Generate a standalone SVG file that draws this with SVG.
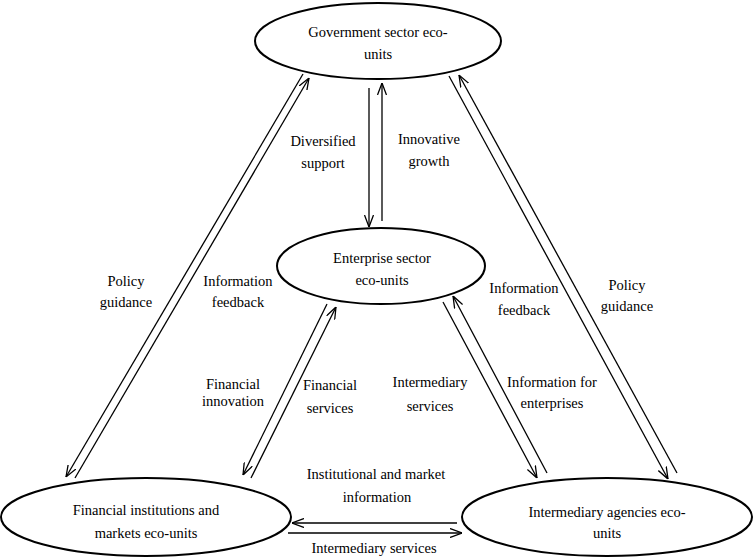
<svg xmlns="http://www.w3.org/2000/svg" width="754" height="558" viewBox="0 0 754 558">
<style>
.node{fill:#fff;stroke:#000;stroke-width:2}
.t{font-family:"Liberation Serif","Times New Roman",serif;font-size:14.5px;fill:#000;text-anchor:middle}
.c{stroke:#000;stroke-width:1.3;fill:none;marker-end:url(#ah)}
</style>
<defs>
<marker id="ah" viewBox="0 0 12 10" refX="12" refY="5" markerWidth="12" markerHeight="10" markerUnits="userSpaceOnUse" orient="auto">
<path d="M0,0.5 L12,5 L0,9.5" fill="none" stroke="#000" stroke-width="1.3"/>
</marker>
</defs>
<rect width="754" height="558" fill="#fff"/>
<g id="connectors">
<line class="c" x1="369" y1="88" x2="369" y2="227"/>
<line class="c" x1="382" y1="221" x2="382" y2="83"/>
<line class="c" x1="303" y1="74" x2="66" y2="477"/>
<line class="c" x1="75" y1="478" x2="309" y2="78"/>
<line class="c" x1="327" y1="304" x2="243" y2="475"/>
<line class="c" x1="251" y1="478" x2="336" y2="307"/>
<line class="c" x1="443" y1="302" x2="537" y2="478"/>
<line class="c" x1="547" y1="473" x2="453" y2="296"/>
<line class="c" x1="449" y1="76" x2="668" y2="479"/>
<line class="c" x1="677" y1="473" x2="459" y2="75"/>
<line class="c" x1="457" y1="523" x2="292" y2="523"/>
<line class="c" x1="288" y1="533" x2="462" y2="533"/>
</g>
<g id="labels">
<text class="t" x="323" y="146">Diversified</text>
<text class="t" x="323" y="168">support</text>
<text class="t" x="429" y="144">Innovative</text>
<text class="t" x="429" y="166">growth</text>
<text class="t" x="126" y="286">Policy</text>
<text class="t" x="126" y="307">guidance</text>
<text class="t" x="238" y="286">Information</text>
<text class="t" x="238" y="307">feedback</text>
<text class="t" x="233" y="389">Financial</text>
<text class="t" x="233" y="406">innovation</text>
<text class="t" x="330" y="390">Financial</text>
<text class="t" x="330" y="413">services</text>
<text class="t" x="430" y="387">Intermediary</text>
<text class="t" x="430" y="411">services</text>
<text class="t" x="552" y="387">Information for</text>
<text class="t" x="552" y="408">enterprises</text>
<text class="t" x="524" y="293">Information</text>
<text class="t" x="524" y="315">feedback</text>
<text class="t" x="627" y="290">Policy</text>
<text class="t" x="627" y="311">guidance</text>
<text class="t" x="376" y="479">Institutional and market</text>
<text class="t" x="377" y="502">information</text>
<text class="t" x="374" y="553">Intermediary services</text>
</g>
<g id="gov">
<ellipse class="node" cx="378" cy="41" rx="123" ry="38"/>
<text class="t" x="378" y="37">Government sector eco-</text>
<text class="t" x="378" y="59">units</text>
</g>
<g id="enterprise">
<ellipse class="node" cx="381" cy="266" rx="104" ry="38"/>
<text class="t" x="382" y="263">Enterprise sector</text>
<text class="t" x="382" y="285">eco-units</text>
</g>
<g id="financial">
<ellipse class="node" cx="146" cy="517" rx="145" ry="39"/>
<text class="t" x="146" y="515">Financial institutions and</text>
<text class="t" x="146" y="538">markets eco-units</text>
</g>
<g id="intermediary">
<ellipse class="node" cx="607" cy="517" rx="145" ry="39"/>
<text class="t" x="607" y="517">Intermediary agencies eco-</text>
<text class="t" x="607" y="538">units</text>
</g>
</svg>
